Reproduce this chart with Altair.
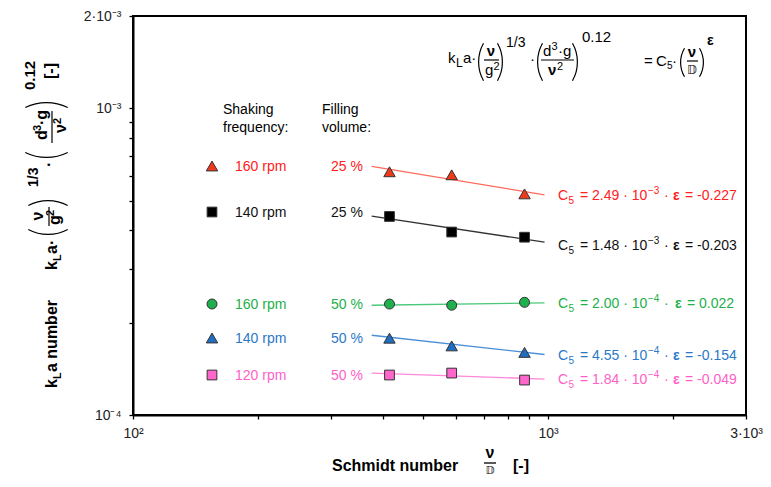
import math
import altair as alt
import pandas as pd

# ---------------- data ----------------
series = ["160 rpm / 25 %", "140 rpm / 25 %", "160 rpm / 50 %", "140 rpm / 50 %", "120 rpm / 50 %"]
shaking = ["160 rpm", "140 rpm", "160 rpm", "140 rpm", "120 rpm"]
filling = ["25 %", "25 %", "50 %", "50 %", "50 %"]

schmidt = [415, 586, 878]
kla_160_25 = [6.21e-4, 6.07e-4, 5.26e-4]
kla_140_25 = [4.44e-4, 3.95e-4, 3.80e-4]
kla_160_50 = [2.30e-4, 2.28e-4, 2.33e-4]
kla_140_50 = [1.78e-4, 1.68e-4, 1.60e-4]
kla_120_50 = [1.35e-4, 1.37e-4, 1.30e-4]

fit_schmidt = [376, 981]
fit_160_25 = [6.47e-4, 5.22e-4]
fit_140_25 = [4.45e-4, 3.66e-4]
fit_160_50 = [2.28e-4, 2.32e-4]
fit_140_50 = [1.82e-4, 1.575e-4]
fit_120_50 = [1.37e-4, 1.31e-4]

c5_mant = ["2.49", "1.48", "2.00", "4.55", "1.84"]
c5_exp = ["\u22123", "\u22123", "\u22124", "\u22124", "\u22124"]
eps_val = ["-0.227", "-0.203", "0.022", "-0.154", "-0.049"]

x_ticks = [100, 200, 300, 400, 500, 600, 700, 800, 900, 1000, 2000, 3000]
y_ticks = [1e-4, 2e-4, 3e-4, 4e-4, 5e-4, 6e-4, 7e-4, 8e-4, 9e-4, 1e-3, 2e-3]

# ---------------- styles ----------------
fills = ["#EE3A1A", "#000000", "#1DB04C", "#1F6EC0", "#FF66CC"]
texts = ["#FF2020", "#111111", "#22B04A", "#2B78C8", "#FF5FC8"]
lines = ["#FF6A5A", "#333333", "#4CC87A", "#4A8FD8", "#FF88D8"]
shapes = ["triangle-up", "square", "circle", "triangle-up", "square"]
sizes = [130, 95, 100, 130, 95]

all_kla = [kla_160_25, kla_140_25, kla_160_50, kla_140_50, kla_120_50]
all_fit = [fit_160_25, fit_140_25, fit_160_50, fit_140_50, fit_120_50]

pts = []
for i, s in enumerate(series):
    for sc, v in zip(schmidt, all_kla[i]):
        pts.append({"Sc": sc, "kla": v, "series": s, "fill": fills[i], "shape": shapes[i], "size": sizes[i]})
pts = pd.DataFrame(pts)

fits = []
for i, s in enumerate(series):
    for sc, v in zip(fit_schmidt, all_fit[i]):
        fits.append({"Sc": sc, "kla": v, "series": s, "line": lines[i]})
fits = pd.DataFrame(fits)

X0, Y0 = 133, 16  # page position of plot origin
FONT = "Liberation Sans"
one = pd.DataFrame({"k": [0]})

xscale = alt.Scale(type="log", domain=[100, 3000], nice=False)
yscale = alt.Scale(type="log", domain=[1e-4, 2e-3], nice=False)

x_label_expr = ("abs(datum.value-100)<1e-6 ? '10\u00b2' : abs(datum.value-1000)<1e-6 ? '10\u00b3' : "
                "abs(datum.value-3000)<1e-6 ? '3\u00b710\u00b3' : ''")
y_label_expr = ("abs(datum.value-0.0001)<1e-10 ? '10\u207b\u2074' : abs(datum.value-0.001)<1e-10 ? '10\u207b\u00b3' : "
                "abs(datum.value-0.002)<1e-10 ? '2\u00b710\u207b\u00b3' : ''")

base_x = alt.X("Sc:Q", scale=xscale, axis=alt.Axis(values=x_ticks, labelExpr=x_label_expr, title=None, grid=False,
                                                    tickSize=4, labelPadding=7, labelFlush=False))
base_y = alt.Y("kla:Q", scale=yscale, axis=alt.Axis(values=y_ticks, labelExpr=y_label_expr, title=None, grid=False,
                                                     tickSize=4, labelPadding=8, labelFlush=False))

line_layer = alt.Chart(fits).mark_line(strokeWidth=1.3).encode(
    x=base_x, y=base_y, detail="series:N", color=alt.Color("line:N", scale=None))
point_layer = alt.Chart(pts).mark_point(filled=True, opacity=1, stroke="#333333", strokeWidth=1).encode(
    x="Sc:Q", y="kla:Q", fill=alt.Fill("fill:N", scale=None), shape=alt.Shape("shape:N", scale=None),
    size=alt.Size("size:Q", scale=None))

layers = [line_layer, point_layer]


def T(txt, px, py, size=14, bold=False, color="black", angle=0, align="left", baseline="alphabetic", font=FONT):
    kw = dict(text=txt, font=font, fontSize=size, fontWeight="bold" if bold else "normal", color=color,
              align=align, baseline=baseline)
    if angle:
        kw["angle"] = angle
    layers.append(alt.Chart(one).mark_text(**kw).encode(x=alt.value(px - X0), y=alt.value(py - Y0)))


def HR(xa, xb, py, w=1.2):
    layers.append(alt.Chart(one).mark_rule(color="black", strokeWidth=w).encode(
        x=alt.value(xa - X0), x2=alt.value(xb - X0), y=alt.value(py - Y0)))


def VR(px, ya, yb, w=1.2):
    layers.append(alt.Chart(one).mark_rule(color="black", strokeWidth=w).encode(
        x=alt.value(px - X0), y=alt.value(ya - Y0), y2=alt.value(yb - Y0)))


def paren(edge_x, edge_y, chord, side, sag=5.0, w=1.2):
    """Thin parenthesis drawn as an arc. side: 'left','right','down','up' = bulge direction."""
    R = (chord * chord / 4 + sag * sag) / (2 * sag)
    half = math.asin(min(1.0, chord / 2 / R))
    if side == "left":
        cx, cy, mid = edge_x + R, edge_y, 1.5 * math.pi
    elif side == "right":
        cx, cy, mid = edge_x - R, edge_y, 0.5 * math.pi
    elif side == "down":
        cx, cy, mid = edge_x, edge_y - R, math.pi
    else:  # up
        cx, cy, mid = edge_x, edge_y + R, 2 * math.pi
    layers.append(alt.Chart(one).mark_arc(innerRadius=R - w, outerRadius=R, theta=mid - half, theta2=mid + half,
                                          color="black").encode(x=alt.value(cx - X0), y=alt.value(cy - Y0)))


# ---------------- legend-like columns ----------------
T("Shaking", 223, 114)
T("frequency:", 223, 132)
T("Filling", 322, 114)
T("volume:", 322, 132)

row_y = [166, 212, 304, 338, 375]
for i in range(5):
    layers.append(alt.Chart(one).mark_point(shape=shapes[i], filled=True, opacity=1, size=sizes[i], fill=fills[i],
                                            stroke="#333333", strokeWidth=1).encode(
        x=alt.value(212 - X0), y=alt.value(row_y[i] - Y0)))
    T(shaking[i], 235, row_y[i] + 5, color=texts[i])
    T(filling[i], 363, row_y[i] + 5, color=texts[i], align="right")

# ---------------- fit annotations ----------------
ann_base = [200, 250, 308, 360, 384]
for i in range(5):
    b = ann_base[i]
    c = texts[i]
    extra = 2 if eps_val[i][0] != "-" else 0
    T("C", 558, b, color=c)
    T("5", 568.5, b + 4, size=10, color=c)
    T("= " + c5_mant[i] + " \u00b7 10", 580, b, color=c)
    T(c5_exp[i], 648, b - 6, size=10, color=c)
    T("\u00b7", 664, b, color=c)
    T("\u03b5", 673 + extra, b, bold=True, color=c)
    T("= " + eps_val[i], 685 + extra, b, color=c)

# ---------------- top formula ----------------
T("k", 448, 63, size=15)
T("L", 456, 67, size=12)
T("a\u00b7", 463, 63, size=15)
paren(478, 62, 38, "left")
T("\u03bd", 491, 56, size=15, bold=True, align="center")
HR(484, 499, 60)
T("g", 485, 75, size=15)
T("2", 493.5, 70, size=11)
paren(503, 62, 38, "right")
T("1/3", 506, 47, size=14)
T("\u00b7", 530, 64, size=15)
paren(537, 62, 38, "left")
T("d", 543, 56, size=15)
T("3", 551.5, 50, size=11)
T("\u00b7", 558, 56, size=15)
T("g", 563, 56, size=15)
HR(541, 574, 60)
T("\u03bd", 548, 75, size=15, bold=True)
T("2", 557, 70, size=11)
paren(578, 62, 38, "right")
T("0.12", 582, 42, size=15)
T("=", 644, 66, size=15)
T("C", 656, 66, size=15)
T("5", 667, 69, size=10)
T("\u00b7", 672, 66, size=15)
paren(680, 62.5, 29, "left", sag=4)
T("\u03bd", 692, 57, size=15, bold=True, align="center")
HR(687, 698, 61)
T("\U0001D53B", 692, 74, size=12, align="center", font="DejaVu Sans")
paren(704, 62.5, 29, "right", sag=4)
T("\u03b5", 707, 45, size=14, bold=True)

# ---------------- x-axis title ----------------
T("Schmidt number", 332, 471, size=16, bold=True)
T("\u03bd", 490, 458, size=16, bold=True, align="center")
HR(484, 496, 463, w=1.3)
T("\U0001D53B", 490, 474, size=11, align="center", font="DejaVu Sans")
T("[-]", 513, 471, size=16, bold=True)

# ---------------- y-axis title (rotated) ----------------
A = 270
T("k", 57, 388, size=16, bold=True, angle=A)
T("L", 61, 379, size=11, bold=True, angle=A)
T("a number", 57, 372, size=16, bold=True, angle=A)
T("k", 57, 270, size=16, bold=True, angle=A)
T("L", 61, 261, size=11, bold=True, angle=A)
T("a\u00b7", 57, 254, size=16, bold=True, angle=A)
paren(48, 235, 40, "down")
T("\u03bd", 43, 216, size=16, bold=True, angle=A, align="center")
VR(49, 207, 226)
T("g", 59.5, 225, size=16, bold=True, angle=A)
T("2", 54, 216, size=11, bold=True, angle=A)
paren(48, 200, 40, "up")
T("1/3", 38, 187, size=14, bold=True, angle=A)
T("\u00b7", 54, 167, size=16, bold=True, angle=A)
paren(46.5, 158, 43, "down")
T("d", 47, 140, size=16, bold=True, angle=A)
T("3", 41, 131, size=11, bold=True, angle=A)
T("\u00b7g", 47, 125, size=16, bold=True, angle=A)
VR(52, 111, 143)
T("\u03bd", 66, 133, size=16, bold=True, angle=A)
T("2", 61, 124, size=11, bold=True, angle=A)
paren(46.5, 102, 43, "up")
T("0.12", 35, 90, size=15, bold=True, angle=A)
T("[-]", 56, 79, size=16, bold=True, angle=A)

chart = alt.layer(*layers).properties(
    width=613, height=399,
    autosize=alt.AutoSizeParams(type="none"),
    padding={"left": 125, "top": 8, "right": 17, "bottom": 63},
).configure_view(stroke="black", strokeWidth=2).configure_axis(
    domainColor="black", domainWidth=2, tickColor="black", tickWidth=1.3,
    labelFont=FONT, labelFontSize=14, labelColor="#222222",
)

chart.save("out.html", embed_options={"renderer": "svg", "actions": False})
